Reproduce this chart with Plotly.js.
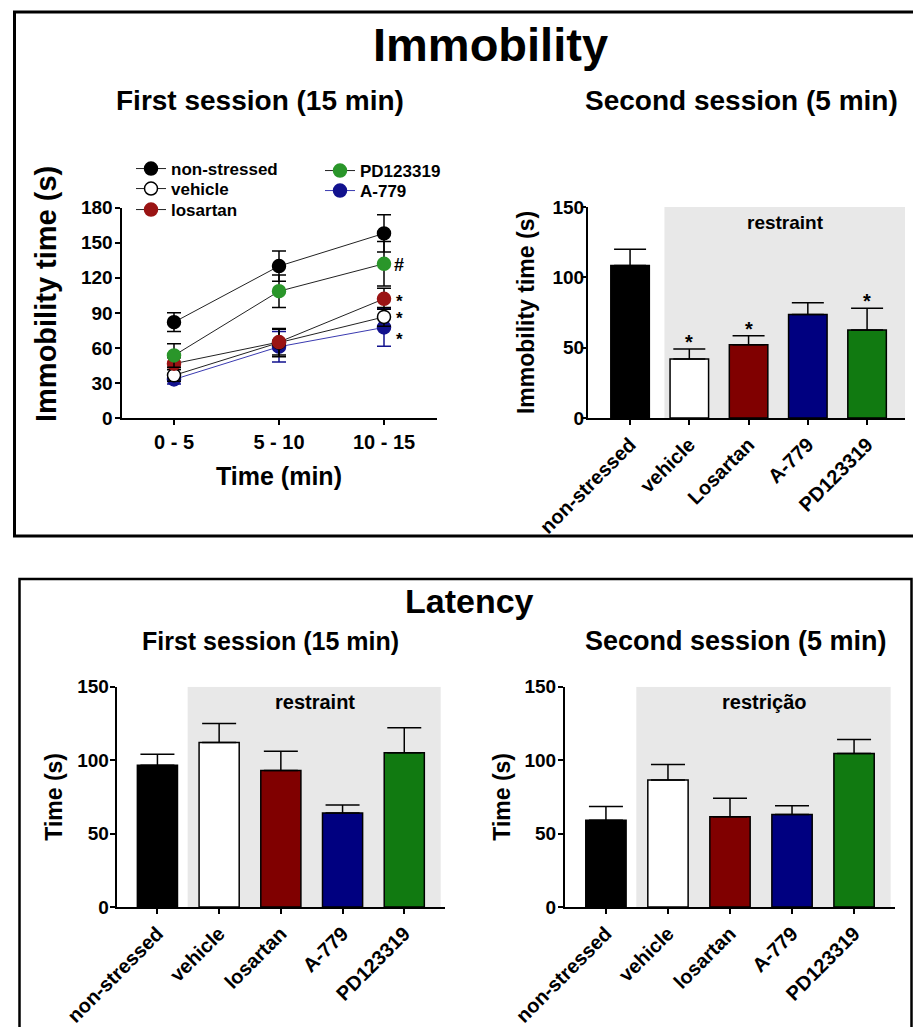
<!DOCTYPE html>
<html><head><meta charset="utf-8">
<script src="https://cdn.plot.ly/plotly-3.0.1.min.js"></script>
<style>html,body{margin:0;padding:0;background:#fff}</style>
</head><body><div id="chart" style="width:913px;height:1027px"></div>
<script>
// ---------- data ----------
const timeBins = ['0 - 5', '5 - 10', '10 - 15'];
const nonStressedMean = [82, 130, 158];
const nonStressedSem = [8, 13, 16];
const vehicleMean = [36.5, 64.5, 86.5];
const vehicleSem = [5, 12, 8];
const losartanMean = [46.5, 65, 102];
const losartanSem = [5, 11, 9];
const pdMean = [53.5, 108.5, 132];
const pdSem = [10, 14, 19];
const a779Mean = [33, 61, 77.5];
const a779Sem = [4, 13, 16];
const lineSig = {'PD123319': '#', 'losartan': '*', 'vehicle': '*', 'A-779': '*'};

const immGroups = ['non-stressed', 'vehicle', 'Losartan', 'A-779', 'PD123319'];
const imm2Mean = [108.5, 42, 52, 73.5, 62.5];
const imm2Sem = [11.5, 7, 6.5, 8.5, 15.5];
const imm2Sig = ['', '*', '*', '', '*'];

const latGroups = ['non-stressed', 'vehicle', 'losartan', 'A-779', 'PD123319'];
const lat1Mean = [96.5, 112, 93, 64, 105];
const lat1Sem = [7.5, 13, 13, 5.5, 17];
const lat2Mean = [59, 86.5, 61.5, 63, 104.5];
const lat2Sem = [9.5, 10.5, 12.5, 6, 9.5];

const barColors = ['#000000', '#ffffff', '#800000', '#000080', '#117a11'];

// ---------- helpers ----------
const W = 913, H = 1027;
const fx = p => p / W;
const fy = p => 1 - p / H;
const FAM = 'Liberation Sans, Arial, sans-serif';
const bf = (size) => ({family: FAM, size: size, color: '#000', weight: 'bold'});

const traces = [];
function lineTrace(name, mean, sem, fill, lineColor, errColor, edge, legend) {
  traces.push({
    type: 'scatter', mode: 'lines+markers', name: name,
    x: timeBins, y: mean, xaxis: 'x', yaxis: 'y', legend: legend,
    line: {color: lineColor, width: 1},
    marker: {size: 13, color: fill, line: {color: edge, width: 1.5}},
    error_y: {type: 'data', array: sem, visible: true, color: errColor, thickness: 1.5, width: 7}
  });
}
lineTrace('A-779', a779Mean, a779Sem, '#12128e', '#3a3ab0', '#12128e', '#12128e', 'legend5');
lineTrace('vehicle', vehicleMean, vehicleSem, '#ffffff', '#222', '#000', '#000', 'legend2');
lineTrace('losartan', losartanMean, losartanSem, '#9a1414', '#222', '#000', '#9a1414', 'legend3');
lineTrace('PD123319', pdMean, pdSem, '#2a962a', '#222', '#000', '#2a962a', 'legend4');
lineTrace('non-stressed', nonStressedMean, nonStressedSem, '#000000', '#222', '#000', '#000', 'legend');

function barTrace(cats, mean, sem, xa, ya, capw) {
  traces.push({
    type: 'bar', x: cats, y: mean, xaxis: xa, yaxis: ya, showlegend: false, width: 0.65,
    marker: {color: barColors, line: {color: '#000', width: 1.5}},
    error_y: {type: 'data', symmetric: false, array: sem, arrayminus: sem.map(() => 0),
      visible: true, color: '#000', thickness: 1.5, width: capw}
  });
}
barTrace(immGroups, imm2Mean, imm2Sem, 'x2', 'y2', 16);
barTrace(latGroups, lat1Mean, lat1Sem, 'x3', 'y3', 17);
barTrace(latGroups, lat2Mean, lat2Sem, 'x4', 'y4', 17);

// ---------- axes ----------
const axBase = {showline: true, linecolor: '#000', linewidth: 2, ticks: 'outside', ticklen: 5,
  tickwidth: 2, tickcolor: '#000', showgrid: false, zeroline: false, fixedrange: true};

function leg(x, yTop) {
  return {x: fx(x), y: fy(yTop), xanchor: 'left', yanchor: 'top', bgcolor: 'rgba(0,0,0,0)',
    font: bf(17), itemwidth: 30, tracegroupgap: 0};
}

const layout = {
  width: W, height: H, margin: {l: 0, r: 0, t: 0, b: 0},
  paper_bgcolor: '#fff', plot_bgcolor: 'rgba(0,0,0,0)',
  font: {family: FAM, color: '#000'},
  xaxis: Object.assign({}, axBase, {domain: [fx(121.5), fx(436.5)], anchor: 'y', type: 'category',
    range: [-0.5, 2.5], tickfont: bf(20), title: {text: 'Time (min)', font: bf(25), standoff: 15}}),
  yaxis: Object.assign({}, axBase, {domain: [fy(418), fy(207.7)], anchor: 'x', range: [0, 180], dtick: 30,
    tickfont: bf(19), ticklabelstandoff: -2}),
  xaxis2: Object.assign({}, axBase, {domain: [fx(588), fx(905)], anchor: 'y2', type: 'category',
    range: [-0.71, 4.64], tickangle: -45, tickfont: bf(20)}),
  yaxis2: Object.assign({}, axBase, {domain: [fy(418), fy(207)], anchor: 'x2', range: [0, 150], dtick: 50,
    tickfont: bf(19), ticklabelstandoff: -7, title: {text: 'Immobility time (s)', font: bf(23), standoff: 11}}),
  xaxis3: Object.assign({}, axBase, {domain: [fx(116.7), fx(445)], anchor: 'y3', type: 'category',
    range: [-0.66, 4.66], tickangle: -45, tickfont: bf(20)}),
  yaxis3: Object.assign({}, axBase, {domain: [fy(907), fy(686.7)], anchor: 'x3', range: [0, 150], dtick: 50,
    tickfont: bf(19), ticklabelstandoff: -3, title: {text: 'Time (s)', font: bf(23), standoff: 8}}),
  xaxis4: Object.assign({}, axBase, {domain: [fx(565), fx(895)], anchor: 'y4', type: 'category',
    range: [-0.66, 4.66], tickangle: -45, tickfont: bf(20)}),
  yaxis4: Object.assign({}, axBase, {domain: [fy(907), fy(686.7)], anchor: 'x4', range: [0, 150], dtick: 50,
    tickfont: bf(19), ticklabelstandoff: -2, title: {text: 'Time (s)', font: bf(23), standoff: 7}}),
  legend: leg(131, 151),
  legend2: leg(131, 171),
  legend3: leg(131, 192),
  legend4: leg(320, 153),
  legend5: leg(320, 173),
  shapes: [
    // panel frames
    {type: 'rect', xref: 'paper', yref: 'paper', x0: fx(14.5), x1: fx(920), y0: fy(536), y1: fy(12),
      line: {color: '#000', width: 3}},
    {type: 'rect', xref: 'paper', yref: 'paper', x0: fx(19.5), x1: fx(911.5), y0: fy(1040), y1: fy(579),
      line: {color: '#000', width: 2.5}},
    // restraint shading
    {type: 'rect', xref: 'x2', yref: 'y2', x0: 0.58, x1: 4.64, y0: 0, y1: 150, layer: 'below',
      fillcolor: '#e8e8e8', line: {width: 0}},
    {type: 'rect', xref: 'x3', yref: 'y3', x0: 0.49, x1: 4.59, y0: 0, y1: 150, layer: 'below',
      fillcolor: '#e8e8e8', line: {width: 0}},
    {type: 'rect', xref: 'x4', yref: 'y4', x0: 0.49, x1: 4.59, y0: 0, y1: 150, layer: 'below',
      fillcolor: '#e8e8e8', line: {width: 0}}
  ],
  annotations: []
};

const ann = layout.annotations;
function paperText(text, x, y, size, angle) {
  ann.push({text: text, xref: 'paper', yref: 'paper', x: fx(x), y: fy(y), xanchor: 'center', yanchor: 'middle',
    showarrow: false, font: bf(size), textangle: angle || 0});
}
paperText('Immobility', 491, 44, 47);
paperText('First session (15 min)', 260, 100, 28);
paperText('Second session (5 min)', 741, 100, 28);
paperText('Latency', 469, 601, 34);
paperText('First session (15 min)', 270, 641, 25);
paperText('Second session (5 min)', 736, 641, 27);
paperText('restraint', 785, 222, 19);
paperText('restraint', 315, 702, 20);
paperText('restrição', 764, 702, 20);
// y-axis title of the line chart (placed off-centre as in the original)
paperText('Immobility time (s)', 46, 294, 29, -90);

// significance marks on the line chart (last time bin)
const lastIdx = timeBins.length - 1;
const sigLine = [
  ['PD123319', pdMean, -1, 18], ['losartan', losartanMean, -3, 17], ['vehicle', vehicleMean, -2, 17], ['A-779', a779Mean, -12, 17]
];
sigLine.forEach(([name, arr, ys, fs]) => {
  ann.push({text: lineSig[name], xref: 'x', yref: 'y', x: timeBins[lastIdx], y: arr[lastIdx],
    xanchor: 'center', yanchor: 'middle', xshift: 15, yshift: ys, showarrow: false, font: bf(fs)});
});
// significance marks above bars
imm2Sig.forEach((s, i) => {
  if (!s) return;
  ann.push({text: s, xref: 'x2', yref: 'y2', x: immGroups[i], y: imm2Mean[i] + imm2Sem[i],
    xanchor: 'center', yanchor: 'bottom', yshift: -6, showarrow: false, font: bf(20)});
});

Plotly.newPlot('chart', traces, layout, {displayModeBar: false, staticPlot: true});
</script></body></html>
